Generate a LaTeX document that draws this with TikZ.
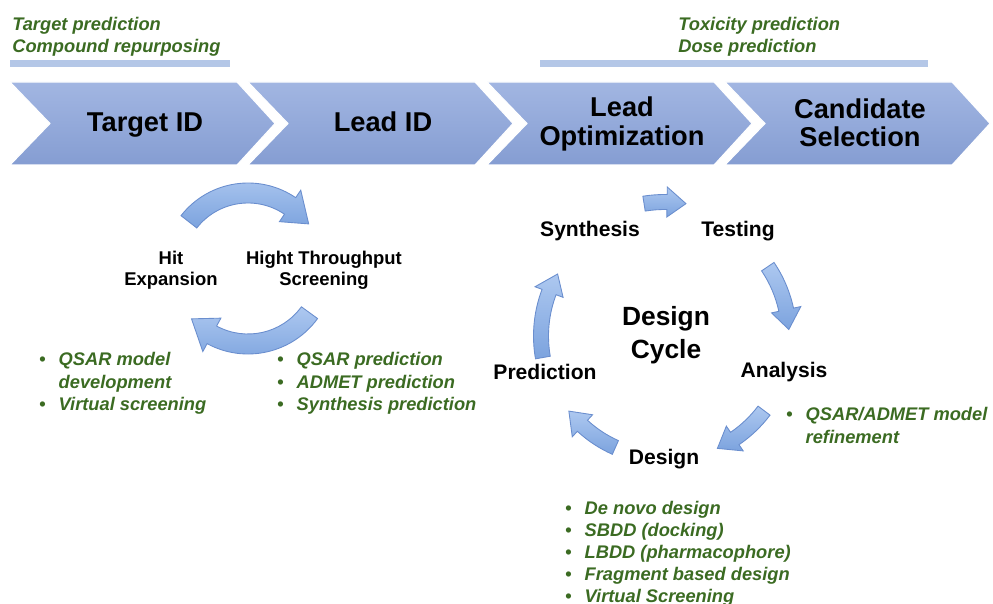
\documentclass[tikz,border=0pt]{standalone}
\usepackage{fontspec}
\setmainfont{Liberation Sans}
\usepackage{xcolor}
\definecolor{chevtop}{HTML}{A2B6E2}
\definecolor{chevbot}{HTML}{859DD2}
\definecolor{barblue}{HTML}{B4C7E7}
\definecolor{notegreen}{HTML}{3B6B22}
\definecolor{arrtop}{HTML}{ADC8F0}
\definecolor{arrbot}{HTML}{7CA3DE}
\definecolor{arredge}{HTML}{6A8ECE}
\newcommand{\gb}{\makebox[11pt][l]{\upshape\textbullet}}
\newcommand{\gn}{\hspace*{11pt}}
% curved block arrow: centre, radius, start, end, shaft width, head width, head length
\newcommand{\bentarrow}[7]{%
  \pgfmathsetmacro{\ahd}{#7/#2*57.2958*sign(#4-#3)}%
  \pgfmathsetmacro{\ahe}{#4-\ahd}%
  \pgfmathsetmacro{\aro}{#2+#5/2}%
  \pgfmathsetmacro{\ari}{#2-#5/2}%
  \pgfmathsetmacro{\ahro}{#2+#6/2}%
  \pgfmathsetmacro{\ahri}{#2-#6/2}%
  \path[cycarr] ([shift={#1}]#3:\aro) arc[start angle=#3, end angle=\ahe, radius=\aro]
    -- ([shift={#1}]\ahe:\ahro) -- ([shift={#1}]#4:#2) -- ([shift={#1}]\ahe:\ahri)
    -- ([shift={#1}]\ahe:\ari) arc[start angle=\ahe, end angle=#3, radius=\ari] -- cycle;
}
\usepackage{tikz}
\usetikzlibrary{calc}

\begin{document}
\begin{tikzpicture}[
  x=0.02cm, y=-0.02cm,
  chev/.style = {top color=chevtop, bottom color=chevbot, draw=white, line width=0.6pt},
  chevtxt/.style = {align=center, inner sep=0pt,
                    font=\fontsize{15.5}{16}\selectfont\bfseries},
  cyctxt/.style = {align=center, inner sep=0pt,
                   font=\fontsize{10.5}{12}\selectfont\bfseries},
  stagetxt/.style = {align=center, inner sep=0pt,
                     font=\fontsize{12}{14}\selectfont\bfseries},
  note/.style = {align=left, inner sep=0pt, anchor=west, text=notegreen,
                 font=\fontsize{10.4}{12.8}\selectfont\bfseries\itshape},
  cycarr/.style = {top color=arrtop, bottom color=arrbot, draw=arredge, line width=0.5pt},
]
\useasboundingbox (0,0) rectangle (993,604);

% phase chevrons
\foreach \x/\nm/\dy/\txt in {10/tid/3/Target ID, 248/lid/0/Lead ID,
                         487/lopt/2/{Lead\\Optimization}, 725/csel/1/{Candidate\\Selection}} {
  \path[chev] (\x,82) -- ++(227,0) -- ++(38,41.5) -- ++(-38,41.5) -- ++(-227,0)
              -- ++(40,-41.5) -- cycle;
  \node[chevtxt] (\nm) at (\x+135,122+\dy) {\txt};
}

% notes above
\node[note] (topl) at (12,37) {Target prediction\\Compound repurposing};
\node[note] (topr) at (678,37) {Toxicity prediction\\Dose prediction};
\fill[barblue] (10,60) rectangle (230,67);
\fill[barblue] (540,60) rectangle (928,67);

% hit-to-lead cycle
\coordinate (hc) at (248,268);
\bentarrow{(hc)}{75}{-142}{-36}{20}{38}{26}
\bentarrow{(hc)}{76}{36}{138}{20}{38}{26}
\node[cyctxt] (hit) at (171,270) {Hit\\Expansion};
\node[cyctxt] (hts) at (324,270) {Hight Throughput\\Screening};
\node[note] (hitn) at (39,383.5) {\gb QSAR model\\\gn development\\\gb Virtual screening};
\node[note] (htsn) at (277,383.5) {\gb QSAR prediction\\\gb ADMET prediction\\\gb Synthesis prediction};

% design cycle
\coordinate (dc) at (665,336);
\bentarrow{(dc)}{134}{-99}{-81}{15}{30}{19}
\bentarrow{(dc)}{124}{-34}{-3}{15}{30}{20}
\bentarrow{(dc)}{124}{37}{65}{15}{30}{20}
\bentarrow{(dc)}{122}{114}{142}{15}{30}{20}
\bentarrow{(dc)}{124}{170}{210}{15}{30}{20}
\node[font=\fontsize{15}{19}\selectfont\bfseries, align=center, inner sep=0pt] (dcyc) at (666,335) {Design\\Cycle};
\node[stagetxt] (syn) at (590,231) {Synthesis};
\node[stagetxt] (tst) at (738,231) {Testing};
\node[stagetxt] (ana) at (784,372) {Analysis};
\node[stagetxt] (des) at (664,459) {Design};
\node[stagetxt] (pre) at (545,372) {Prediction};
\node[note] (anan) at (786,425.5) {\gb QSAR/ADMET model\\\gn refinement};
\node[note, font=\fontsize{10.4}{12.5}\selectfont\bfseries\itshape] (desn) at (565,554)
  {\gb De novo design\\\gb SBDD (docking)\\\gb LBDD (pharmacophore)\\\gb Fragment based design\\\gb Virtual Screening};
\end{tikzpicture}
\end{document}
